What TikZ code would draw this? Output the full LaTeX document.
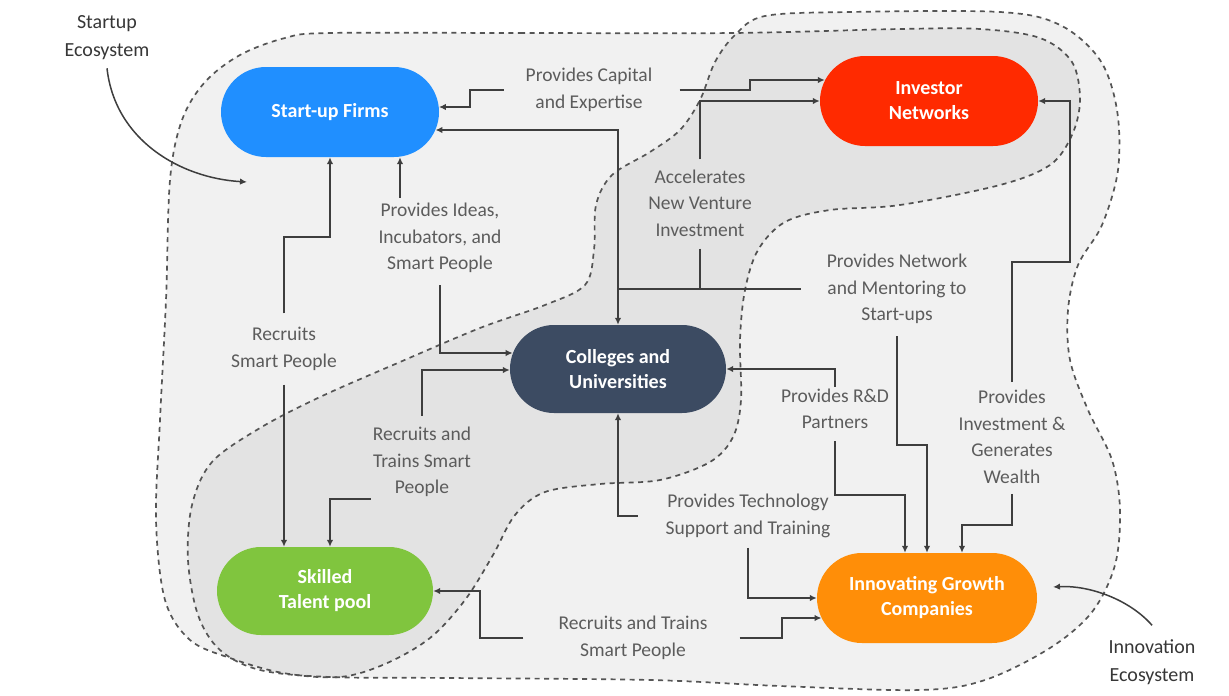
\documentclass[tikz,border=0pt]{standalone}
\usepackage{fontspec}
\setmainfont{Carlito}
\usetikzlibrary{shapes.misc,arrows.meta,calc}
\definecolor{cBlue}{RGB}{32,143,255}
\definecolor{cRed}{RGB}{255,42,0}
\definecolor{cNavy}{RGB}{60,75,98}
\definecolor{cGreen}{RGB}{128,197,62}
\definecolor{cOrange}{RGB}{255,142,8}
\definecolor{lblC}{RGB}{92,92,92}
\definecolor{lineC}{RGB}{62,62,62}
\definecolor{dashC}{RGB}{85,85,85}
\definecolor{ecoTxt}{RGB}{55,55,55}
\begin{document}
\begin{tikzpicture}[x=1pt,y=-1pt,
 pill/.style={rounded rectangle, inner sep=0pt, minimum height=90pt, minimum width=218pt, text=white, font=\bfseries\fontsize{20}{25}\selectfont, align=center},
 lbl/.style={text=lblC, font=\fontsize{19.5}{26.5}\selectfont, align=center, inner sep=2pt},
 ecolbl/.style={text=ecoTxt, font=\fontsize{20}{28}\selectfont, align=center, inner sep=2pt},
 conn/.style={draw=lineC, line width=1.8pt},
 arr/.style={conn, -{Latex[length=7pt,width=6.5pt]}},
 eco/.style={draw=dashC, line width=1.7pt, dash pattern=on 5pt off 4.5pt, fill=black, fill opacity=0.055},
]
\fill[white] (0,0) rectangle (1229,696);
\useasboundingbox (0,0) rectangle (1229,696);

% Startup ecosystem region
\path[eco] plot[smooth cycle, tension=0.55] coordinates {
 (330,33) (520,33) (733,33) (900,29) (980,29) (1040,38) (1072,62) (1080,100)
 (1072,135) (1050,165) (1000,185) (900,205) (830,210) (785,222) (758,250)
 (745,290) (740,340) (741,400) (733,437) (710,462) (660,480) (600,484)
 (545,492) (515,515) (493,555) (465,600) (430,638) (385,664) (340,677)
 (283,673) (230,658) (190,640) (165,600) (156,520) (160,420) (166,300)
 (170,180) (182,120) (205,82) (240,55) (285,38)};
% Innovation ecosystem region
\path[eco] plot[smooth cycle, tension=0.55] coordinates {
 (700,100) (715,62) (735,35) (765,16) (850,12) (1000,12) (1060,25) (1100,60)
 (1117,110) (1118,170) (1102,225) (1078,265) (1068,310) (1070,360) (1088,410)
 (1112,460) (1120,510) (1115,565) (1092,612) (1050,648) (985,680) (920,690)
 (780,686) (650,680) (450,678) (330,677) (260,670) (220,650) (198,615)
 (188,560) (192,505) (212,462) (260,428) (320,397) (400,362) (480,328)
 (545,305) (585,285) (594,250) (596,205) (612,175) (650,152) (680,130)};

% main nodes
\node[pill, fill=cBlue] (startup) at (330,112) {Start-up Firms};
\node[pill, fill=cRed] (investor) at (929,101) {Investor\\Networks};
\node[pill, fill=cNavy, minimum height=88pt, minimum width=216pt] (colleges) at (618,369) {Colleges and\\Universities};
\node[pill, fill=cGreen, minimum height=88pt, minimum width=216pt] (skilled) at (325,591) {Skilled\\Talent pool};
\node[pill, fill=cOrange, minimum width=220pt] (growth) at (927,598) {Innovating Growth\\Companies};

% labels
\node[lbl] (capital) at (589,90) {Provides Capital\\and Expertise};
\node[lbl] (accel) at (700,203) {Accelerates\\New Venture\\Investment};
\node[lbl] (ideas) at (440,238) {Provides Ideas,\\Incubators, and\\Smart People};
\node[lbl] (recS) at (284,349) {Recruits\\Smart People};
\node[lbl] (network) at (897,289) {Provides Network\\and Mentoring to\\Start-ups};
\node[lbl] (rd) at (835,409) {Provides R\&D\\Partners};
\node[lbl] (invest) at (1012,437) {Provides\\Investment \&\\Generates\\Wealth};
\node[lbl] (recT) at (422,462) {Recruits and\\Trains Smart\\People};
\node[lbl] (tech) at (748,516) {Provides Technology\\Support and Training};
\node[lbl] (recB) at (633,638) {Recruits and Trains\\Smart People};
\node[ecolbl] (se) at (107,38) {Startup\\Ecosystem};
\node[ecolbl] (ie) at (1152,662) {Innovation\\Ecosystem};

% border points
\path (investor.west |- 0,80) ++(5,0) coordinate (invA);
\path (startup.east |- 0,130) ++(-3.8,0) coordinate (stB);
\path (startup.east |- 0,107) ++(-0.3,0) coordinate (stA);
\path (growth.west |- 0,618) ++(4.7,0) coordinate (grB);
\path (colleges.west |- 0,353) ++(2.9,0) coordinate (coA);
\path (colleges.west |- 0,370) coordinate (coB);
\coordinate (j1) at (618,289);
\coordinate (seTip) at (247,182);
\coordinate (ieTip) at (1053,587);

% connectors
\draw[arr] ([xshift=-20pt]capital.west) -| (470,107) -- (stA);
\draw[arr] ([xshift=25pt]capital.east) -- (750,90) |- (invA);
\draw[arr] ([yshift=8pt]accel.north) |- (investor.west);
\draw[conn] ([yshift=-10pt]accel.south) -- (accel.south |- j1);
\draw[arr] ([xshift=-24pt]network.west) -- (j1) |- (stB);
\draw[arr] (j1) -- (colleges.north);
\draw[arr] ([yshift=-10pt]network.south) |- (927,445) -- (growth.north -| 927,0);
\draw[arr] (rd.north) |- (colleges.east);
\draw[arr] ([yshift=-10pt]rd.south) |- (905,495) -- (growth.north -| 905,0);
\draw[arr] ([yshift=6pt]invest.north) |- (1070,262) |- (investor.east);
\draw[arr] ([yshift=-8pt]invest.south) |- (962,525) -- (growth.north -| 962,0);
\draw[arr] ([xshift=-26pt]tech.west) -| (colleges.south);
\draw[arr] ([yshift=-8pt]tech.south) |- (growth.west);
\draw[arr] ([xshift=30pt]recB.east) -- (782,638) |- (grB);
\draw[arr] ([xshift=-33pt]recB.west) -| (480,591) -- (skilled.east);
\draw[arr] ([yshift=9pt]recT.north) |- (coB);
\draw[arr] (recT.south west) -| (skilled.north -| 330,0);
\draw[arr] ([xshift=-40pt,yshift=3pt]ideas.north) -- (startup.south -| 400,0);
\draw[arr] ([yshift=-10pt]ideas.south) |- (coA);
\draw[arr] ([yshift=12pt]recS.north) |- (330,237) -- (startup.south -| 330,0);
\draw[arr] ([yshift=-12pt]recS.south) -- (skilled.north -| 284,0);

% ecosystem pointers
\draw[arr, line width=1.5pt] ([yshift=-6pt]se.south) .. controls (115,140) and (180,178) .. (seTip);
\draw[arr, line width=1.5pt] ([yshift=12pt]ie.north) .. controls (1130,600) and (1090,585) .. (ieTip);
\end{tikzpicture}
\end{document}
